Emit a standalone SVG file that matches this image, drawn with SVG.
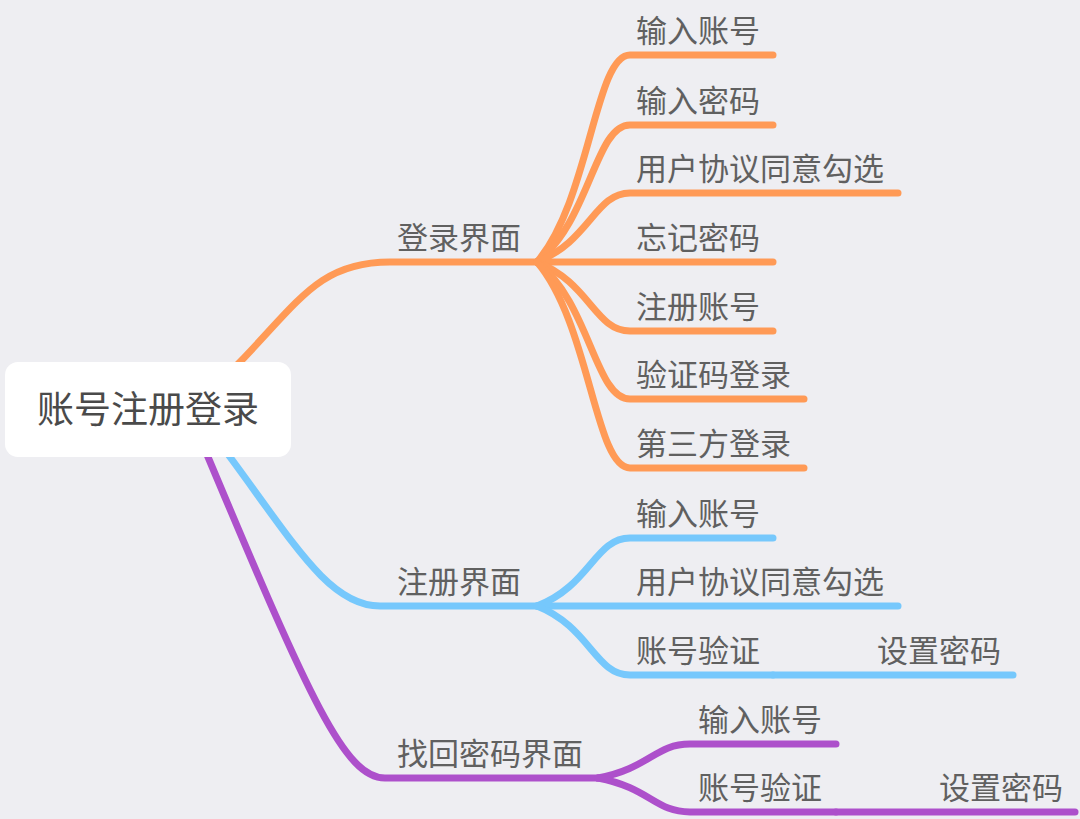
<svg xmlns="http://www.w3.org/2000/svg" width="1080" height="819" viewBox="0 0 1080 819">
<style>
.bg{fill:#EEEEF2}
.c{fill:none;stroke-width:7;stroke-linecap:round;stroke-linejoin:round}
.o{stroke:#FF9A56}
.b{stroke:#76C8FC}
.p{stroke:#AD50CB}
text{font-family:"Noto Sans CJK SC","Noto Sans",sans-serif;fill:#606060;font-size:31px}
.root{font-size:37px;fill:#4A4A4A}
</style>
<rect class="bg" x="0" y="0" width="1080" height="819"/>
<g id="connectors">
<path class="c o" d="M215,387 L240,362 C300,300 320,262 390,262 L537,262"/>
<path class="c b" d="M210,427 L230,457 C295,545 330,606 380,606 L537,606"/>
<path class="c p" d="M198,434 L208,457 C310,700 345,778 385,778 L598,778"/>
<path class="c o" d="M537,262 C590,200 595,55 630,55 L773,55"/>
<path class="c o" d="M537,262 C590,221 595,125 630,125 L773,125"/>
<path class="c o" d="M537,262 C590,241 595,193 630,193 L898,193"/>
<path class="c o" d="M537,262 L773,262"/>
<path class="c o" d="M537,262 C590,283 595,331 630,331 L773,331"/>
<path class="c o" d="M537,262 C590,303 595,399 630,399 L804,399"/>
<path class="c o" d="M537,262 C590,324 595,468 630,468 L804,468"/>
<path class="c b" d="M537,606 C590,586 595,538 630,538 L773,538"/>
<path class="c b" d="M537,606 L898,606"/>
<path class="c b" d="M537,606 C590,627 595,675 630,675 L773,675"/>
<path class="c b" d="M773,675 L1013,675"/>
<path class="c p" d="M598,778 C650,768 655,744 690,744 L836,744"/>
<path class="c p" d="M598,778 C650,788 655,812 690,812 L836,812"/>
<path class="c p" d="M836,812 L1075,812"/>
</g>
<g id="root"><rect x="5" y="362" width="286" height="95" rx="13" fill="#FFFFFF"/><text class="root" x="148" y="423" text-anchor="middle">账号注册登录</text></g>
<g id="n-login"><text x="397" y="249">登录界面</text></g>
<g id="n-login-1"><text x="636" y="42">输入账号</text></g>
<g id="n-login-2"><text x="636" y="112">输入密码</text></g>
<g id="n-login-3"><text x="636" y="180">用户协议同意勾选</text></g>
<g id="n-login-4"><text x="636" y="249">忘记密码</text></g>
<g id="n-login-5"><text x="636" y="318">注册账号</text></g>
<g id="n-login-6"><text x="636" y="386">验证码登录</text></g>
<g id="n-login-7"><text x="636" y="455">第三方登录</text></g>
<g id="n-reg"><text x="397" y="593">注册界面</text></g>
<g id="n-reg-1"><text x="636" y="525">输入账号</text></g>
<g id="n-reg-2"><text x="636" y="593">用户协议同意勾选</text></g>
<g id="n-reg-3"><text x="636" y="662">账号验证</text></g>
<g id="n-reg-3-1"><text x="877" y="662">设置密码</text></g>
<g id="n-find"><text x="397" y="765">找回密码界面</text></g>
<g id="n-find-1"><text x="698" y="731">输入账号</text></g>
<g id="n-find-2"><text x="698" y="799">账号验证</text></g>
<g id="n-find-2-1"><text x="939" y="799">设置密码</text></g>
</svg>
